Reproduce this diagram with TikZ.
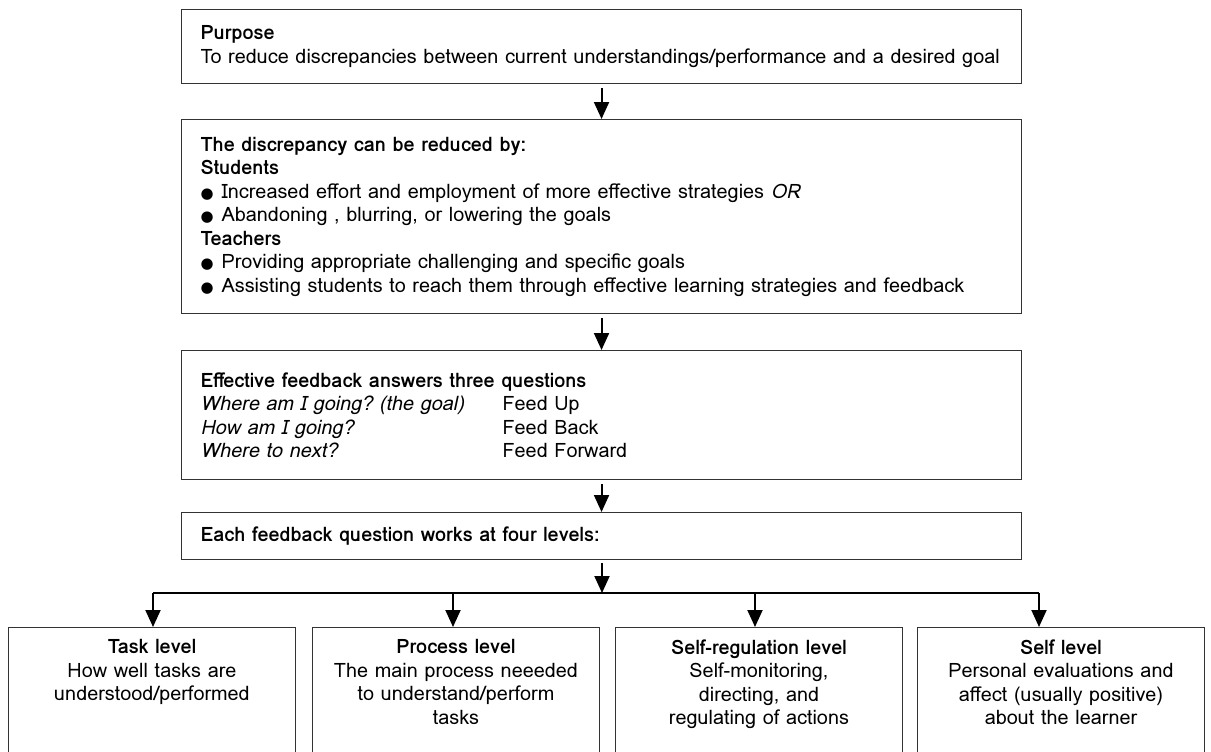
\documentclass[tikz,border=0pt]{standalone}
\usepackage{fontspec}
\setmainfont{Loma}
\newfontfamily\symfont{DejaVu Sans}
\usetikzlibrary{arrows.meta,positioning}
\tikzset{
  box/.style={draw=black!80,line width=0.7pt,rectangle,anchor=north west,
    minimum width=16.8cm,text width=16.04cm,inner xsep=0.38cm,align=left,
    font=\fontsize{11.3}{13.4}\selectfont},
  lvl/.style={draw=black!80,line width=0.7pt,rectangle,anchor=north,
    minimum width=5.74cm,minimum height=3cm},
  lvltext/.style={align=center,inner sep=0pt,font=\fontsize{11.3}{13.4}\selectfont},
  arrow/.style={-{Triangle[length=0.34cm,width=0.3cm]},line width=1.1pt}
}
\newcommand\blt{\makebox[0.42cm][l]{\symfont\fontsize{8.5}{8}\selectfont ●}}
\newcommand\qcol[1]{\makebox[6.04cm][l]{\itshape #1}}
\frenchspacing

\begin{document}
\begin{tikzpicture}[x=0.02cm,y=-0.02cm]
  \useasboundingbox (0,0) rectangle (1211,751);
  % main column
  \node[box,minimum height=1.48cm] (purpose) at (181,9)
    {\textbf{Purpose}\\
     To reduce discrepancies between current understandings/performance and a desired goal};
  \node[box,minimum height=3.88cm] (reduce) at (181,119)
    {\textbf{The discrepancy can be reduced by:}\\
     \textbf{Students}\\
     \blt Increased effort and employment of more effective strategies \textit{OR}\\
     \blt Abandoning , blurring, or lowering the goals\\
     \textbf{Teachers}\\
     \blt Providing appropriate challenging and specific goals\\
     \blt Assisting students to reach them through effective learning strategies and feedback};
  \node[box,minimum height=2.58cm] (questions) at (181,350)
    {\textbf{Effective feedback answers three questions}\\
     \qcol{Where am I going? (the goal)}Feed Up\\
     \qcol{How am I going?}Feed Back\\
     \qcol{Where to next?}Feed Forward};
  \node[box,minimum height=0.94cm] (levels) at (181,512)
    {\textbf{Each feedback question works at four levels:}};

  \draw[arrow,shorten <=0.08cm] (purpose) -- (reduce);
  \draw[arrow,shorten <=0.08cm] (reduce) -- (questions);
  \draw[arrow,shorten <=0.08cm] (questions) -- (levels);

  % the four levels
  \node[lvl] (task) at (152,627) {};
  \node[lvl] (process) at (456,627) {};
  \node[lvl] (selfreg) at (759,627) {};
  \node[lvl] (self) at (1061,627) {};

  \node[lvltext,below=0.24cm of task.north] (tasktxt)
    {\textbf{Task level}\\ How well tasks are\\ understood/performed};
  \node[lvltext,below=0.24cm of process.north] (processtxt)
    {\textbf{Process level}\\ The main process neeeded\\ to understand/perform\\ tasks};
  \node[lvltext,below=0.24cm of selfreg.north] (selfregtxt)
    {\textbf{Self-regulation level}\\ Self-monitoring,\\ directing, and\\ regulating of actions};
  \node[lvltext,below=0.24cm of self.north] (selftxt)
    {\textbf{Self level}\\ Personal evaluations and\\ affect (usually positive)\\ about the learner};

  \coordinate (j0) at (602,593);
  \coordinate (j1) at (153,593);
  \coordinate (j2) at (453,593);
  \coordinate (j3) at (755,593);
  \coordinate (j4) at (1039,593);
  \draw[arrow,shorten <=0.06cm] (levels.south -| j0) -- (j0);
  \draw[line width=1.1pt] (j1) -- (j4);
  \draw[arrow] (j1) -- (j1 |- task.north);
  \draw[arrow] (j2) -- (j2 |- process.north);
  \draw[arrow] (j3) -- (j3 |- selfreg.north);
  \draw[arrow] (j4) -- (j4 |- self.north);
\end{tikzpicture}
\end{document}
